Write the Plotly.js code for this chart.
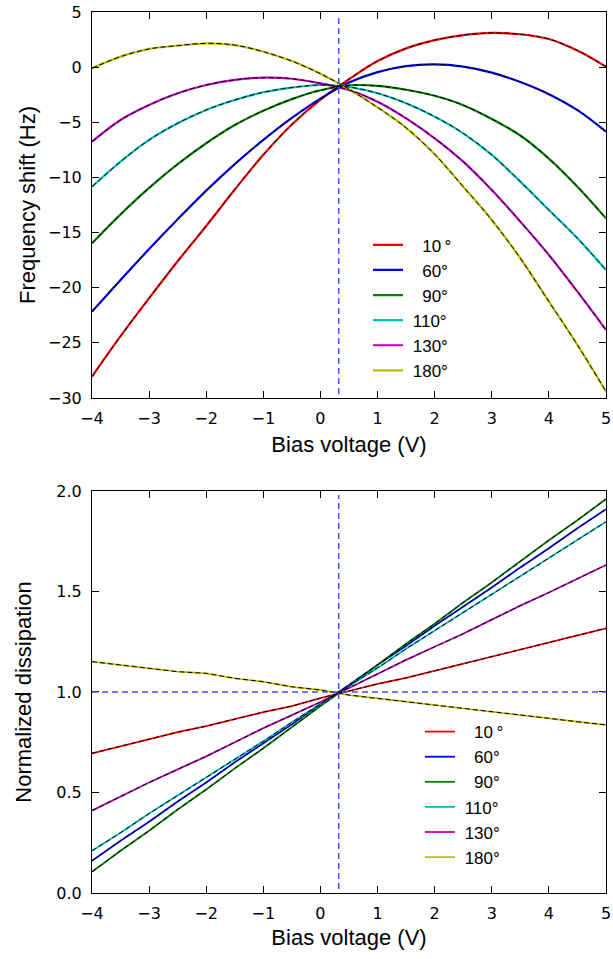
<!DOCTYPE html>
<html>
<head>
<meta charset="utf-8">
<script src="https://cdn.plot.ly/plotly-3.0.1.min.js"></script>
<style>html,body{margin:0;padding:0;background:#fff;}#chart{width:613px;height:959px;}</style>
</head>
<body>
<div id="chart"></div>
<script>
// Bias voltage grid (V)
const biasV = [-4, -3.5, -3, -2.5, -2, -1.5, -1, -0.5, 0, 0.5, 1, 1.5, 2, 2.5, 3, 3.5, 4, 4.5, 5];
const angleLabels = ['\u00A0\u00A0\u00A010\u2009\u00B0', '\u00A0\u00A0\u00A060\u00B0', '\u00A0\u00A0\u00A090\u00B0', '\u00A0110\u00B0', '\u00A0130\u00B0', '\u00A0180\u00B0'];

// Frequency shift (Hz)
const freq10  = [-28.06, -24.40, -20.95, -17.60, -14.40, -11.10, -7.95, -5.20, -2.95, -1.10, 0.55, 1.70, 2.45, 2.90, 3.10, 2.98, 2.55, 1.50, 0.04];
const freq60  = [-22.17, -19.30, -16.50, -13.80, -11.20, -8.80, -6.60, -4.60, -2.85, -1.40, -0.45, 0.10, 0.25, 0.05, -0.50, -1.35, -2.45, -3.90, -5.85];
const freq90  = [-15.97, -13.35, -10.95, -8.80, -6.90, -5.25, -3.95, -2.90, -2.10, -1.65, -1.70, -2.05, -2.60, -3.45, -4.70, -6.20, -8.30, -10.85, -13.71];
const freq110 = [-10.84, -8.57, -6.60, -5.09, -3.88, -2.98, -2.28, -1.85, -1.62, -1.80, -2.37, -3.28, -4.49, -6.00, -7.96, -10.38, -12.95, -15.52, -18.39];
const freq130 = [-6.76, -4.79, -3.43, -2.37, -1.62, -1.16, -0.95, -1.05, -1.47, -2.07, -3.13, -4.64, -6.45, -8.57, -11.14, -14.01, -17.03, -20.36, -23.83];
const freq180 = [-0.10, 0.95, 1.65, 1.95, 2.16, 2.00, 1.40, 0.55, -0.60, -2.00, -3.65, -5.50, -7.90, -10.84, -13.86, -17.33, -21.26, -25.19, -29.42];

// Normalized dissipation
const diss10  = [0.695, 0.73, 0.765, 0.80, 0.83, 0.865, 0.90, 0.93, 0.97, 1.005, 1.04, 1.07, 1.105, 1.14, 1.175, 1.21, 1.245, 1.28, 1.317];
const diss60  = [0.16, 0.26, 0.355, 0.455, 0.55, 0.65, 0.745, 0.84, 0.94, 1.035, 1.135, 1.23, 1.33, 1.425, 1.52, 1.62, 1.715, 1.815, 1.909];
const diss90  = [0.105, 0.21, 0.31, 0.415, 0.515, 0.62, 0.72, 0.825, 0.93, 1.03, 1.135, 1.24, 1.34, 1.445, 1.545, 1.65, 1.755, 1.855, 1.96];
const diss110 = [0.21, 0.30, 0.395, 0.485, 0.575, 0.665, 0.755, 0.85, 0.94, 1.03, 1.12, 1.215, 1.305, 1.395, 1.485, 1.575, 1.665, 1.755, 1.847];
const diss130 = [0.41, 0.48, 0.55, 0.615, 0.68, 0.75, 0.82, 0.885, 0.95, 1.02, 1.09, 1.16, 1.225, 1.29, 1.36, 1.43, 1.495, 1.565, 1.632];
const diss180 = [1.151, 1.134, 1.118, 1.101, 1.093, 1.068, 1.051, 1.026, 1.010, 0.985, 0.968, 0.952, 0.935, 0.919, 0.902, 0.886, 0.869, 0.852, 0.836];

const crossingV = 0.32;   // vertical reference line (V)
const dissRef = 1.0;      // horizontal reference line

const colors = ['#ff0000', '#0000ff', '#008000', '#00bfbf', '#bf00bf', '#bfbf00'];
const freqSeries = [freq10, freq60, freq90, freq110, freq130, freq180];
const dissSeries = [diss10, diss60, diss90, diss110, diss130, diss180];

const traces = [];
freqSeries.forEach((ys, i) => {
  traces.push({x: biasV, y: ys, xaxis: 'x', yaxis: 'y', type: 'scatter', mode: 'lines',
    name: angleLabels[i], legend: 'legend',
    line: {color: colors[i], width: 2.2, shape: 'spline'}});
});
freqSeries.forEach((ys) => {
  traces.push({x: biasV, y: ys, xaxis: 'x', yaxis: 'y', type: 'scatter', mode: 'lines',
    showlegend: false, hoverinfo: 'skip',
    line: {color: '#000000', width: 1, dash: '5px,3px', shape: 'spline'}});
});
dissSeries.forEach((ys, i) => {
  traces.push({x: biasV, y: ys, xaxis: 'x2', yaxis: 'y2', type: 'scatter', mode: 'lines',
    name: angleLabels[i], legend: 'legend2',
    line: {color: colors[i], width: 1.8}});
});
dissSeries.forEach((ys) => {
  traces.push({x: biasV, y: ys, xaxis: 'x2', yaxis: 'y2', type: 'scatter', mode: 'lines',
    showlegend: false, hoverinfo: 'skip',
    line: {color: '#000000', width: 1, dash: '5px,3px'}});
});

const tickFont = {family: 'DejaVu Sans', size: 16, color: '#000'};
const titleFont = {family: 'Liberation Sans, Arial', size: 22, color: '#000'};
const legendFont = {family: 'Liberation Sans, Arial', size: 17, color: '#000'};
const axisCommon = {
  showline: true, linecolor: '#000', linewidth: 1, mirror: 'ticks',
  ticks: 'inside', ticklen: 7, tickcolor: '#000', tickwidth: 1,
  showgrid: false, zeroline: false, tickfont: tickFont, ticklabelstandoff: 6, automargin: true
};

const layout = {
  width: 613, height: 959,
  margin: {l: 92, r: 7, t: 12, b: 66, autoexpand: false},
  paper_bgcolor: '#fff', plot_bgcolor: '#fff',
  showlegend: true,
  xaxis: Object.assign({}, axisCommon, {anchor: 'y', range: [-4, 5], dtick: 1, tick0: -4,
    title: {text: 'Bias voltage (V)', font: titleFont, standoff: 9}}),
  yaxis: Object.assign({}, axisCommon, {domain: [0.5619, 1], range: [-30, 5], dtick: 5,
    title: {text: 'Frequency shift (Hz)', font: titleFont, standoff: 6}}),
  xaxis2: Object.assign({}, axisCommon, {anchor: 'y2', range: [-4, 5], dtick: 1, tick0: -4,
    title: {text: 'Bias voltage (V)', font: titleFont, standoff: 7}}),
  yaxis2: Object.assign({}, axisCommon, {domain: [0, 0.4563], range: [0, 2], dtick: 0.5, tickformat: '.1f',
    title: {text: 'Normalized dissipation', font: titleFont, standoff: 18}}),
  legend: {x: 0.537, y: 0.7556, xanchor: 'left', yanchor: 'top', bgcolor: 'rgba(0,0,0,0)',
    font: legendFont, itemwidth: 30, tracegroupgap: 0},
  legend2: {x: 0.638, y: 0.2031, xanchor: 'left', yanchor: 'top', bgcolor: 'rgba(0,0,0,0)',
    font: legendFont, itemwidth: 30, tracegroupgap: 0},
  shapes: [
    {type: 'line', xref: 'x', yref: 'y domain', x0: crossingV, x1: crossingV, y0: 0.01, y1: 0.99,
      line: {color: '#4d4dff', width: 1.5, dash: '6px,4px'}},
    {type: 'line', xref: 'x2', yref: 'y2 domain', x0: crossingV, x1: crossingV, y0: 0.01, y1: 0.99,
      line: {color: '#4d4dff', width: 1.5, dash: '6px,4px'}},
    {type: 'line', xref: 'x2 domain', yref: 'y2', x0: 0, x1: 1, y0: dissRef, y1: dissRef,
      line: {color: '#4d4dff', width: 1.5, dash: '6px,4px'}}
  ]
};

Plotly.newPlot('chart', traces, layout, {displayModeBar: false, staticPlot: true});
</script>
</body>
</html>
